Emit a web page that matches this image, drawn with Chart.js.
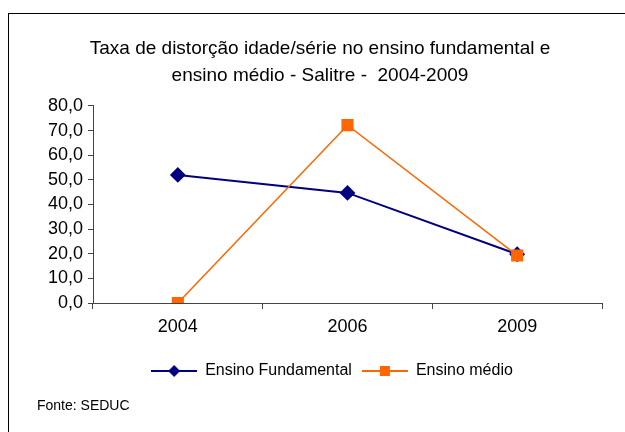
<!DOCTYPE html>
<html>
<head>
<meta charset="utf-8">
<script src="https://cdn.jsdelivr.net/npm/chart.js@4"></script>
<style>
body { margin: 0; background: #fff; }
#frame { position: absolute; left: 8px; top: 13px; width: 640px; height: 440px; border: 1px solid #000; }
#wrap { position: absolute; left: 0; top: 0; width: 625px; height: 432px; }
#fonte { position: absolute; left: 37px; top: 397px; font: 14px "Liberation Sans", Arial, sans-serif; color: #000; }
</style>
</head>
<body>
<div id="frame"></div>
<div id="wrap"><canvas id="chart"></canvas></div>
<div id="fonte">Fonte: SEDUC</div>
<script>
'use strict';

// Data
var years = ['2004', '2006', '2009'];
var fundamental = [52.0, 44.7, 19.8];
var medio = [0.0, 72.2, 19.3];
var seriesNames = ['Ensino Fundamental', 'Ensino médio'];
var titleLines = ['Taxa de distorção idade/série no ensino fundamental e', 'ensino médio - Salitre -  2004-2009'];

var navy = '#000080';
var orange = '#ff6600';
var fontFamily = '"Liberation Sans", Arial, sans-serif';

// little line + marker picture for the legend
function legendIcon(color, shape) {
	var c = document.createElement('canvas');
	c.width = 46;
	c.height = 14;
	var g = c.getContext('2d');
	g.strokeStyle = color;
	g.lineWidth = 2;
	g.beginPath();
	g.moveTo(0, 7);
	g.lineTo(46, 7);
	g.stroke();
	g.fillStyle = color;
	g.beginPath();
	if (shape === 'diamond') {
		g.moveTo(23, 1); g.lineTo(29, 7); g.lineTo(23, 13); g.lineTo(17, 7);
	} else {
		g.rect(18, 2, 10, 10);
	}
	g.closePath();
	g.fill();
	return c;
}

var icons = [legendIcon(navy, 'diamond'), legendIcon(orange, 'square')];

// the legend sits a bit right of centre in the original
var legendShift = {
	id: 'legendShift',
	afterUpdate: function (chart) {
		chart.legend.left += 12;
		chart.legend.right += 12;
	}
};

var config = {
	type: 'line',
	data: {
		labels: years,
		datasets: [{
			label: seriesNames[0],
			data: fundamental,
			borderColor: navy,
			backgroundColor: navy,
			borderWidth: 2,
			pointStyle: 'rectRot',
			pointRadius: 6.5,
			pointHoverRadius: 6.5,
			tension: 0,
			order: 1
		}, {
			label: seriesNames[1],
			data: medio,
			borderColor: orange,
			backgroundColor: orange,
			borderWidth: 1.5,
			pointStyle: 'rect',
			pointRadius: 7.5,
			pointHoverRadius: 7.5,
			tension: 0,
			order: 0
		}]
	},
	plugins: [legendShift],
	options: {
		responsive: false,
		animation: false,
		events: [],
		layout: { padding: { left: 38, right: 23, top: 0, bottom: 43 } },
		plugins: {
			title: {
				display: true,
				text: titleLines,
				color: '#000',
				font: { family: fontFamily, size: 19, weight: 'normal', lineHeight: 1.42 },
				padding: { top: 35, bottom: 17 }
			},
			legend: {
				position: 'bottom',
				labels: {
					usePointStyle: true,
					pointStyleWidth: 46,
					padding: 10,
					color: '#000',
					font: { family: fontFamily, size: 16 },
					generateLabels: function (chart) {
						return chart.data.datasets.map(function (ds, i) {
							return {
								text: ds.label,
								pointStyle: icons[i],
								fillStyle: ds.borderColor,
								strokeStyle: ds.borderColor,
								lineWidth: 0,
								datasetIndex: i,
								fontColor: '#000'
							};
						});
					}
				}
			},
			tooltip: { enabled: false }
		},
		scales: {
			x: {
				offset: true,
				grid: { offset: true, drawOnChartArea: false, drawTicks: true, tickLength: 6, color: '#444' },
				border: { display: true, color: '#444', width: 1 },
				ticks: { color: '#000', padding: 7, font: { family: fontFamily, size: 18 } },
				afterFit: function (scale) { scale.height = 50; }
			},
			y: {
				min: 0,
				max: 80,
				grid: { drawOnChartArea: false, drawTicks: true, tickLength: 5, color: '#444' },
				border: { display: true, color: '#444', width: 1 },
				ticks: {
					stepSize: 10,
					color: '#000',
					padding: 5,
					font: { family: fontFamily, size: 18 },
					callback: function (v) { return v.toFixed(1).replace('.', ','); }
				},
				afterFit: function (scale) { scale.width = 55; }
			}
		}
	}
};

var canvas = document.getElementById('chart');
canvas.width = 625;
canvas.height = 432;
window.myChart = new Chart(canvas.getContext('2d'), config);
</script>
</body>
</html>
